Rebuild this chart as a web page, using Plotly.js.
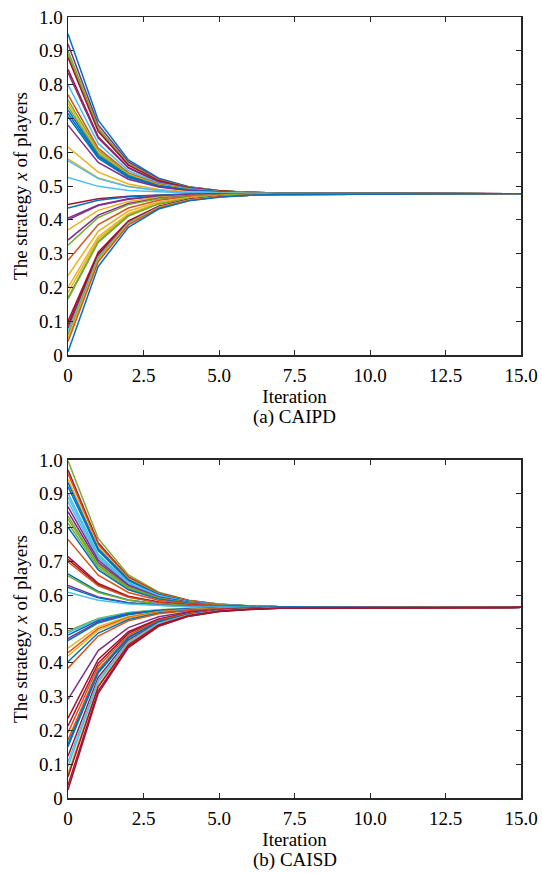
<!DOCTYPE html>
<html>
<head>
<meta charset="utf-8">
<script src="https://cdn.plot.ly/plotly-3.0.1.min.js"></script>
<style>html,body{margin:0;padding:0;background:#fff;}#chart{width:542px;height:873px;}</style>
</head>
<body>
<div id="chart"></div>
<script>
// Iteration index for each sample of a player's strategy
const iterations = [0, 1, 2, 3, 4, 5, 6, 7, 15];

// (a) CAIPD: strategy x of each player per iteration
const caipdSeries = [
  [0.950, 0.695, 0.577, 0.523, 0.498, 0.487, 0.481, 0.479, 0.477],
  [0.920, 0.681, 0.571, 0.520, 0.497, 0.486, 0.481, 0.479, 0.477],
  [0.900, 0.672, 0.566, 0.518, 0.496, 0.486, 0.481, 0.479, 0.477],
  [0.890, 0.667, 0.564, 0.517, 0.496, 0.486, 0.481, 0.479, 0.477],
  [0.880, 0.662, 0.562, 0.516, 0.495, 0.485, 0.481, 0.479, 0.477],
  [0.845, 0.646, 0.555, 0.513, 0.494, 0.485, 0.481, 0.479, 0.477],
  [0.835, 0.642, 0.553, 0.512, 0.493, 0.484, 0.480, 0.479, 0.477],
  [0.800, 0.626, 0.545, 0.508, 0.492, 0.484, 0.480, 0.478, 0.477],
  [0.770, 0.612, 0.539, 0.506, 0.490, 0.483, 0.480, 0.478, 0.477],
  [0.755, 0.605, 0.536, 0.504, 0.490, 0.483, 0.480, 0.478, 0.477],
  [0.745, 0.600, 0.534, 0.503, 0.489, 0.483, 0.480, 0.478, 0.477],
  [0.735, 0.596, 0.532, 0.502, 0.489, 0.482, 0.480, 0.478, 0.477],
  [0.725, 0.591, 0.530, 0.501, 0.488, 0.482, 0.479, 0.478, 0.477],
  [0.715, 0.587, 0.527, 0.500, 0.488, 0.482, 0.479, 0.478, 0.477],
  [0.705, 0.582, 0.525, 0.499, 0.487, 0.482, 0.479, 0.478, 0.477],
  [0.680, 0.570, 0.520, 0.497, 0.486, 0.481, 0.479, 0.478, 0.477],
  [0.615, 0.541, 0.506, 0.490, 0.483, 0.480, 0.478, 0.478, 0.477],
  [0.580, 0.524, 0.499, 0.487, 0.482, 0.479, 0.478, 0.477, 0.477],
  [0.575, 0.522, 0.498, 0.487, 0.481, 0.479, 0.478, 0.477, 0.477],
  [0.525, 0.499, 0.487, 0.482, 0.479, 0.478, 0.477, 0.477, 0.477],
  [0.445, 0.462, 0.470, 0.474, 0.476, 0.476, 0.477, 0.477, 0.477],
  [0.435, 0.458, 0.468, 0.473, 0.475, 0.476, 0.477, 0.477, 0.477],
  [0.405, 0.444, 0.462, 0.470, 0.474, 0.476, 0.476, 0.477, 0.477],
  [0.400, 0.442, 0.461, 0.470, 0.474, 0.475, 0.476, 0.477, 0.477],
  [0.370, 0.428, 0.454, 0.467, 0.472, 0.475, 0.476, 0.477, 0.477],
  [0.340, 0.414, 0.448, 0.464, 0.471, 0.474, 0.476, 0.476, 0.477],
  [0.325, 0.407, 0.445, 0.462, 0.470, 0.474, 0.476, 0.476, 0.477],
  [0.280, 0.386, 0.435, 0.458, 0.468, 0.473, 0.475, 0.476, 0.477],
  [0.235, 0.366, 0.426, 0.453, 0.466, 0.472, 0.475, 0.476, 0.477],
  [0.200, 0.350, 0.418, 0.450, 0.465, 0.471, 0.474, 0.476, 0.477],
  [0.185, 0.343, 0.415, 0.449, 0.464, 0.471, 0.474, 0.476, 0.477],
  [0.170, 0.336, 0.412, 0.447, 0.463, 0.471, 0.474, 0.476, 0.477],
  [0.165, 0.333, 0.411, 0.447, 0.463, 0.471, 0.474, 0.476, 0.477],
  [0.100, 0.304, 0.397, 0.440, 0.460, 0.469, 0.473, 0.475, 0.477],
  [0.090, 0.299, 0.395, 0.439, 0.460, 0.469, 0.473, 0.475, 0.477],
  [0.080, 0.294, 0.393, 0.438, 0.459, 0.469, 0.473, 0.475, 0.477],
  [0.070, 0.290, 0.391, 0.437, 0.459, 0.469, 0.473, 0.475, 0.477],
  [0.060, 0.285, 0.389, 0.436, 0.458, 0.468, 0.473, 0.475, 0.477],
  [0.050, 0.281, 0.387, 0.436, 0.458, 0.468, 0.473, 0.475, 0.477],
  [0.040, 0.276, 0.385, 0.435, 0.457, 0.468, 0.473, 0.475, 0.477],
  [0.010, 0.262, 0.378, 0.432, 0.456, 0.467, 0.473, 0.475, 0.477]
];
const caipdColorIdx = [0,3,4,4,6,6,3,5,1,4,2,4,0,0,0,3,2,2,5,5,6,0,3,3,2,3,4,1,2,2,2,4,4,6,6,6,5,4,2,1,0];

// (b) CAISD: strategy x of each player per iteration
const caisdSeries = [
  [0.998, 0.768, 0.660, 0.609, 0.585, 0.574, 0.569, 0.566, 0.564],
  [0.970, 0.755, 0.654, 0.606, 0.584, 0.573, 0.568, 0.566, 0.564],
  [0.960, 0.750, 0.652, 0.605, 0.583, 0.573, 0.568, 0.566, 0.564],
  [0.943, 0.742, 0.648, 0.603, 0.583, 0.573, 0.568, 0.566, 0.564],
  [0.933, 0.737, 0.646, 0.602, 0.582, 0.572, 0.568, 0.566, 0.564],
  [0.921, 0.732, 0.643, 0.601, 0.581, 0.572, 0.568, 0.566, 0.564],
  [0.901, 0.722, 0.638, 0.599, 0.580, 0.572, 0.568, 0.566, 0.564],
  [0.890, 0.717, 0.636, 0.598, 0.580, 0.571, 0.568, 0.566, 0.564],
  [0.877, 0.711, 0.633, 0.596, 0.579, 0.571, 0.567, 0.566, 0.564],
  [0.862, 0.704, 0.630, 0.595, 0.579, 0.571, 0.567, 0.566, 0.564],
  [0.847, 0.697, 0.626, 0.593, 0.578, 0.570, 0.567, 0.565, 0.564],
  [0.834, 0.691, 0.624, 0.592, 0.577, 0.570, 0.567, 0.565, 0.564],
  [0.825, 0.687, 0.622, 0.591, 0.577, 0.570, 0.567, 0.565, 0.564],
  [0.813, 0.681, 0.619, 0.590, 0.576, 0.570, 0.567, 0.565, 0.564],
  [0.801, 0.675, 0.616, 0.589, 0.576, 0.569, 0.567, 0.565, 0.564],
  [0.765, 0.659, 0.608, 0.585, 0.574, 0.569, 0.566, 0.565, 0.564],
  [0.714, 0.635, 0.597, 0.580, 0.571, 0.567, 0.566, 0.565, 0.564],
  [0.706, 0.631, 0.595, 0.579, 0.571, 0.567, 0.566, 0.565, 0.564],
  [0.699, 0.628, 0.594, 0.578, 0.571, 0.567, 0.565, 0.565, 0.564],
  [0.663, 0.611, 0.586, 0.574, 0.569, 0.566, 0.565, 0.564, 0.564],
  [0.657, 0.608, 0.585, 0.574, 0.569, 0.566, 0.565, 0.564, 0.564],
  [0.629, 0.595, 0.578, 0.571, 0.567, 0.566, 0.565, 0.564, 0.564],
  [0.623, 0.592, 0.577, 0.570, 0.567, 0.565, 0.565, 0.564, 0.564],
  [0.609, 0.585, 0.574, 0.569, 0.566, 0.565, 0.564, 0.564, 0.564],
  [0.494, 0.531, 0.549, 0.557, 0.561, 0.562, 0.563, 0.564, 0.564],
  [0.489, 0.529, 0.547, 0.556, 0.560, 0.562, 0.563, 0.564, 0.564],
  [0.482, 0.525, 0.546, 0.555, 0.560, 0.562, 0.563, 0.564, 0.564],
  [0.472, 0.521, 0.544, 0.554, 0.559, 0.562, 0.563, 0.564, 0.564],
  [0.466, 0.518, 0.542, 0.554, 0.559, 0.562, 0.563, 0.564, 0.564],
  [0.443, 0.507, 0.537, 0.551, 0.558, 0.561, 0.563, 0.563, 0.564],
  [0.430, 0.501, 0.534, 0.550, 0.557, 0.561, 0.563, 0.563, 0.564],
  [0.420, 0.496, 0.532, 0.549, 0.557, 0.561, 0.562, 0.563, 0.564],
  [0.403, 0.488, 0.528, 0.547, 0.556, 0.560, 0.562, 0.563, 0.564],
  [0.384, 0.479, 0.524, 0.545, 0.555, 0.560, 0.562, 0.563, 0.564],
  [0.292, 0.436, 0.504, 0.536, 0.551, 0.558, 0.561, 0.563, 0.564],
  [0.236, 0.410, 0.492, 0.530, 0.548, 0.557, 0.560, 0.562, 0.564],
  [0.213, 0.399, 0.487, 0.528, 0.547, 0.556, 0.560, 0.562, 0.564],
  [0.193, 0.390, 0.482, 0.526, 0.546, 0.556, 0.560, 0.562, 0.564],
  [0.172, 0.380, 0.477, 0.523, 0.545, 0.555, 0.560, 0.562, 0.564],
  [0.160, 0.374, 0.475, 0.522, 0.544, 0.555, 0.560, 0.562, 0.564],
  [0.152, 0.370, 0.473, 0.521, 0.544, 0.555, 0.560, 0.562, 0.564],
  [0.124, 0.357, 0.467, 0.518, 0.543, 0.554, 0.559, 0.562, 0.564],
  [0.107, 0.349, 0.463, 0.517, 0.542, 0.554, 0.559, 0.562, 0.564],
  [0.093, 0.343, 0.460, 0.515, 0.541, 0.553, 0.559, 0.562, 0.564],
  [0.073, 0.333, 0.456, 0.513, 0.540, 0.553, 0.559, 0.562, 0.564],
  [0.063, 0.329, 0.453, 0.512, 0.540, 0.553, 0.559, 0.561, 0.564],
  [0.038, 0.317, 0.448, 0.509, 0.538, 0.552, 0.558, 0.561, 0.564],
  [0.024, 0.310, 0.445, 0.508, 0.538, 0.552, 0.558, 0.561, 0.564]
];
const caisdColorIdx = [4,6,1,2,0,0,5,5,5,3,3,4,4,4,0,1,6,6,1,0,4,3,0,5,4,5,0,3,0,2,1,2,0,1,3,6,6,1,1,0,0,6,5,5,2,6,6,6];

// Tick labels
const xTickVals = [0, 2.5, 5, 7.5, 10, 12.5, 15];
const xTickText = ['0', '2.5', '5.0', '7.5', '10.0', '12.5', '15.0'];
const yTickVals = [0, 0.1, 0.2, 0.3, 0.4, 0.5, 0.6, 0.7, 0.8, 0.9, 1.0];
const yTickText = ['0', '0.1', '0.2', '0.3', '0.4', '0.5', '0.6', '0.7', '0.8', '0.9', '1.0'];

const xTitle = 'Iteration';
const yTitle = 'The strategy <i>x</i> of players';
const captions = ['(a) CAIPD', '(b) CAISD'];

const palette = ['#0072BD', '#D95319', '#EDB120', '#7E2F8E', '#77AC30', '#4DBEEE', '#A2142F'];

const traces = [];
caipdSeries.forEach((ys, i) => {
  traces.push({x: iterations, y: ys, type: 'scatter', mode: 'lines', xaxis: 'x', yaxis: 'y',
    line: {color: palette[caipdColorIdx[i]], width: 1.5}, showlegend: false, hoverinfo: 'skip'});
});
caisdSeries.forEach((ys, i) => {
  traces.push({x: iterations, y: ys, type: 'scatter', mode: 'lines', xaxis: 'x2', yaxis: 'y2',
    line: {color: palette[caisdColorIdx[i]], width: 1.5}, showlegend: false, hoverinfo: 'skip'});
});

const font = {family: '"Liberation Serif", "Times New Roman", serif', size: 19, color: '#000'};
const axisLine = '#262626';

function xAxis(anchor) {
  return {
    anchor: anchor, domain: [0, 1], range: [0, 15],
    tickvals: xTickVals, ticktext: xTickText,
    ticks: 'inside', ticklen: 5, tickwidth: 1, tickcolor: axisLine,
    showline: true, linecolor: axisLine, linewidth: 1.5, mirror: 'ticks',
    showgrid: false, zeroline: false, ticklabelstandoff: 3,
    tickfont: font,
    title: {text: xTitle, font: font, standoff: 2}
  };
}
function yAxis(anchor, domain) {
  return {
    anchor: anchor, domain: domain, range: [0, 1],
    tickvals: yTickVals, ticktext: yTickText,
    ticks: 'inside', ticklen: 5, tickwidth: 1, tickcolor: axisLine,
    showline: true, linecolor: axisLine, linewidth: 1.5, mirror: 'ticks',
    showgrid: false, zeroline: false,
    tickfont: font,
    title: {text: yTitle, font: font, standoff: 6}
  };
}

const layout = {
  width: 542, height: 873,
  margin: {l: 68, r: 21, t: 17, b: 75},
  paper_bgcolor: '#fff', plot_bgcolor: '#fff',
  font: font,
  xaxis: xAxis('y'),
  yaxis: yAxis('x', [0.5672, 1]),
  xaxis2: xAxis('y2'),
  yaxis2: yAxis('x2', [0, 0.4328]),
  annotations: [
    {text: captions[0], xref: 'paper', yref: 'paper', x: 0.5, y: 0.5672, yshift: -62,
     xanchor: 'center', yanchor: 'middle', showarrow: false, font: font},
    {text: captions[1], xref: 'paper', yref: 'paper', x: 0.5, y: 0, yshift: -62,
     xanchor: 'center', yanchor: 'middle', showarrow: false, font: font}
  ]
};

Plotly.newPlot('chart', traces, layout, {displayModeBar: false, staticPlot: true});
</script>
</body>
</html>
